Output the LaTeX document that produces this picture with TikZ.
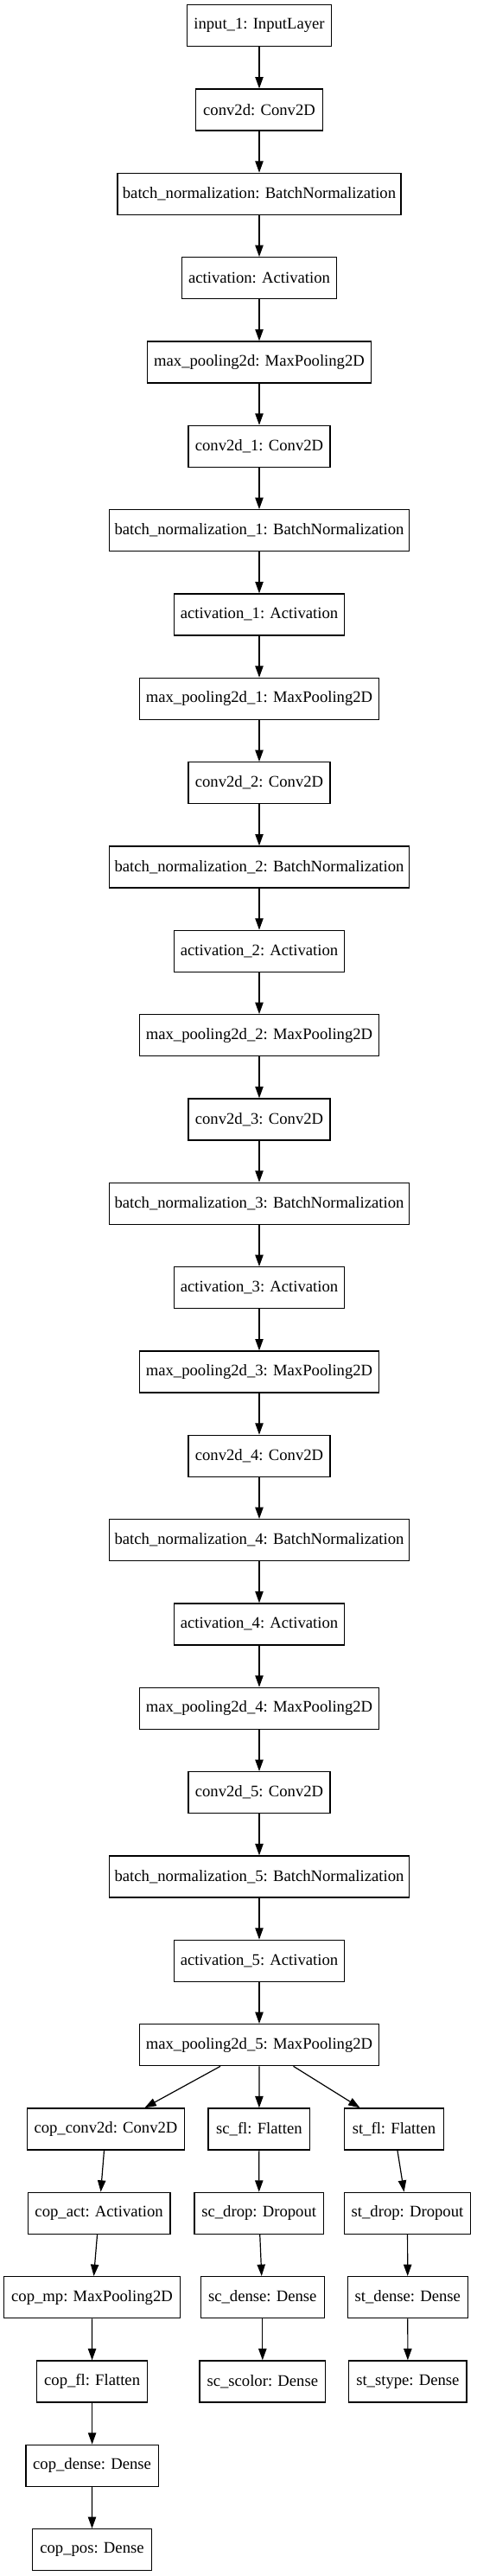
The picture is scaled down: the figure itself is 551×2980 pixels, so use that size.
\documentclass[tikz,border=0pt]{standalone}
\usepackage{fontspec}
\setmainfont{Liberation Serif}
\usetikzlibrary{arrows.meta}
\begin{document}
\begin{tikzpicture}[x=0.75pt,y=-0.75pt,
  layer/.style={draw=black, line width=1pt, rectangle, inner sep=0pt,
    minimum height=36pt, minimum width={#1*0.75pt},
    font=\fontsize{14pt}{16pt}\selectfont},
  edge/.style={draw=black, line width=0.9pt, -{Triangle[length=10pt,width=7pt]}}]
\useasboundingbox (0,0) rectangle (551,2980);
% main chain
\node[layer=166.5] (n0) at (300,{29.7+97.33*0}) {input\_1: InputLayer};
\node[layer=146.9] (n1) at (300,{29.7+97.33*1}) {conv2d: Conv2D};
\node[layer=328.3] (n2) at (300,{29.7+97.33*2}) {batch\_normalization: BatchNormalization};
\node[layer=178.7] (n3) at (300,{29.7+97.33*3}) {activation: Activation};
\node[layer=259]   (n4) at (300,{29.7+97.33*4}) {max\_pooling2d: MaxPooling2D};
\foreach \k in {1,...,5}{
  \pgfmathtruncatemacro\ra{4*\k+1}
  \pgfmathtruncatemacro\rb{4*\k+2}
  \pgfmathtruncatemacro\rc{4*\k+3}
  \pgfmathtruncatemacro\rd{4*\k+4}
  \node[layer=164.3] (n\ra) at (300,{29.7+97.33*\ra}) {conv2d\_\k: Conv2D};
  \node[layer=347.2] (n\rb) at (300,{29.7+97.33*\rb}) {batch\_normalization\_\k: BatchNormalization};
  \node[layer=197.4] (n\rc) at (300,{29.7+97.33*\rc}) {activation\_\k: Activation};
  \node[layer=277]   (n\rd) at (300,{29.7+97.33*\rd}) {max\_pooling2d\_\k: MaxPooling2D};
}
\foreach \i in {0,...,23}{
  \pgfmathtruncatemacro\j{\i+1}
  \draw[edge] (n\i) -- (n\j);
}
% branches
\node[layer=181.7] (copconv) at (122.5,{29.7+97.33*25}) {cop\_conv2d: Conv2D};
\node[layer=164.5] (copact)  at (114.6,{29.7+97.33*26}) {cop\_act: Activation};
\node[layer=203.8] (copmp)   at (106.5,{29.7+97.33*27}) {cop\_mp: MaxPooling2D};
\node[layer=128.3] (copfl)   at (106.6,{29.7+97.33*28}) {cop\_fl: Flatten};
\node[layer=153.5] (copdense) at (106.6,{29.7+97.33*29}) {cop\_dense: Dense};
\node[layer=137.8] (coppos)  at (106.5,{29.7+97.33*30}) {cop\_pos: Dense};
\node[layer=117.7] (scfl)    at (299.9,{29.7+97.33*25}) {sc\_fl: Flatten};
\node[layer=149.7] (scdrop)  at (299.7,{29.7+97.33*26}) {sc\_drop: Dropout};
\node[layer=143]   (scdense) at (303.8,{29.7+97.33*27}) {sc\_dense: Dense};
\node[layer=145.8] (scscolor) at (303.8,{29.7+97.33*28}) {sc\_scolor: Dense};
\node[layer=114.9] (stfl)    at (456,{29.7+97.33*25}) {st\_fl: Flatten};
\node[layer=146]   (stdrop)  at (471.5,{29.7+97.33*26}) {st\_drop: Dropout};
\node[layer=138.8] (stdense) at (471.8,{29.7+97.33*27}) {st\_dense: Dense};
\node[layer=136.3] (ststype) at (471.9,{29.7+97.33*28}) {st\_stype: Dense};
\draw[edge] (n24) -- (copconv);
\draw[edge] (n24) -- (scfl);
\draw[edge] (n24) -- (stfl);
\draw[edge] (copconv) -- (copact);
\draw[edge] (copact) -- (copmp);
\draw[edge] (copmp) -- (copfl);
\draw[edge] (copfl) -- (copdense);
\draw[edge] (copdense) -- (coppos);
\draw[edge] (scfl) -- (scdrop);
\draw[edge] (scdrop) -- (scdense);
\draw[edge] (scdense) -- (scscolor);
\draw[edge] (stfl) -- (stdrop);
\draw[edge] (stdrop) -- (stdense);
\draw[edge] (stdense) -- (ststype);
\end{tikzpicture}
\end{document}
